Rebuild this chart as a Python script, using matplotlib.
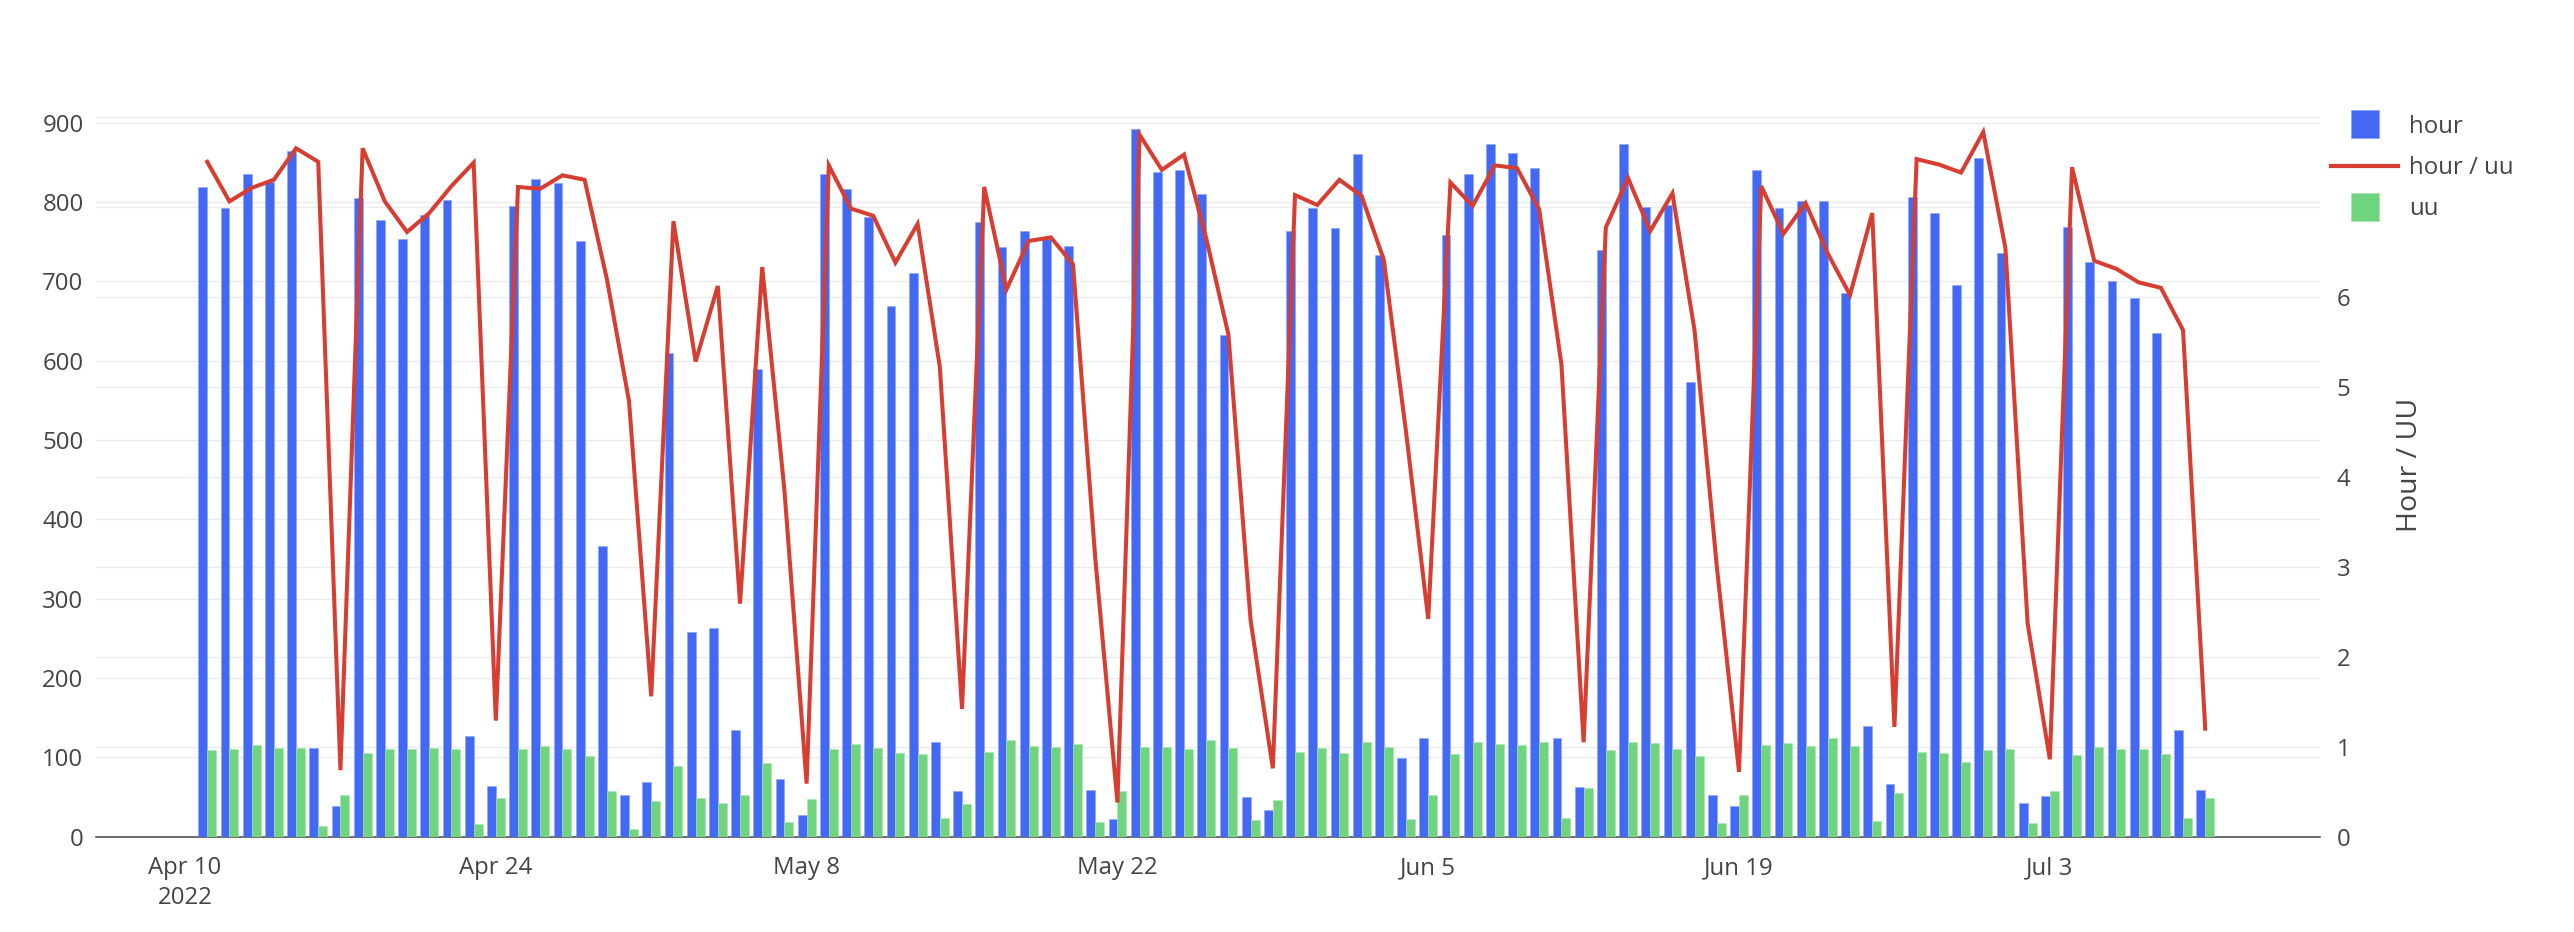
"""
Daily hour / uu chart with ratio line on a second axis.
"""

import pandas as pd
import matplotlib
matplotlib.use("Agg")
import matplotlib.pyplot as plt
import matplotlib.dates as mdates
from matplotlib.lines import Line2D

dates = pd.date_range("2022-04-11", periods=91, freq="D")

hour = [
    819, 792, 835, 825, 864, 112, 39, 805, 777, 753, 784, 803, 127, 64,
    795, 829, 824, 751, 367, 52, 69, 610, 258, 263, 134, 590, 73, 27, 836, 817,
    781, 669, 710, 120, 58, 775, 743, 763, 754, 745, 59, 22, 892, 838, 841,
    810, 633, 50, 34, 763, 793, 767, 861, 733, 99, 125, 758, 836, 873, 862,
    843, 125, 63, 739, 873, 794, 796, 573, 52, 39, 841, 792, 801, 801, 686,
    139, 67, 807, 786, 695, 855, 736, 42, 51, 769, 724, 701, 679, 635, 135, 59,
]
uu = [
    109, 111, 115, 112, 112, 14, 52, 105, 110, 111, 112, 110, 16, 49,
    110, 114, 111, 102, 58, 10, 45, 89, 49, 42, 52, 93, 18, 48, 111, 117,
    112, 105, 104, 23, 41, 107, 122, 114, 113, 117, 18, 58, 113, 113, 111,
    122, 112, 21, 46, 107, 112, 105, 120, 113, 22, 52, 104, 119, 117, 116,
    120, 24, 61, 109, 119, 118, 111, 102, 17, 52, 116, 118, 114, 124, 114,
    20, 55, 107, 105, 94, 109, 111, 17, 58, 103, 113, 111, 110, 104, 24, 49,
]
hour_per_uu = [
    7.50, 7.06, 7.21, 7.30, 7.65, 7.50, 0.74, 7.65, 7.06, 6.72, 6.93, 7.23, 7.49, 1.29,
    7.22, 7.20, 7.35, 7.30, 6.20, 4.84, 1.56, 6.84, 5.28, 6.12, 2.59, 6.33, 3.85, 0.59, 7.46, 6.98,
    6.90, 6.38, 6.81, 5.22, 1.42, 7.22, 6.08, 6.62, 6.66, 6.36, 3.10, 0.38, 7.80, 7.41, 7.58,
    6.65, 5.58, 2.40, 0.76, 7.13, 7.02, 7.30, 7.12, 6.41, 4.50, 2.42, 7.27, 7.01, 7.46, 7.43,
    6.97, 5.25, 1.05, 6.77, 7.32, 6.73, 7.15, 5.62, 3.00, 0.72, 7.23, 6.70, 7.04, 6.48, 6.02,
    6.93, 1.22, 7.53, 7.47, 7.38, 7.83, 6.54, 2.37, 0.86, 7.44, 6.40, 6.31, 6.16, 6.10, 5.63, 1.20,
]

tick_dates = pd.date_range("2022-04-10", periods=7, freq="14D")
tick_labels = ["Apr 10\n2022", "Apr 24", "May 8", "May 22", "Jun 5", "Jun 19", "Jul 3"]

BLUE = "#4369f4"
GREEN = "#70d47e"
RED = "#d73d31"
GRID = "#ececec"
TEXT = "#444444"

plt.rcParams["font.family"] = ["Open Sans", "DejaVu Sans"]
FS = 17.3

W, H = 2574, 932
fig = plt.figure(figsize=(W / 100, H / 100), dpi=100)
left, right, bottom, top = 96, 2320, 836.7, 93.4
ax = fig.add_axes([left / W, (H - bottom) / H, (right - left) / W, (bottom - top) / H])
ax2 = ax.twinx()

y1max, y2max = 937, 8.26
ax.set_ylim(0, y1max)
ax2.set_ylim(0, y2max)

x = mdates.date2num(dates)
ax.bar(x - 0.2, hour, width=0.4, color=BLUE, edgecolor="#8aa3f8", linewidth=0.4, zorder=3)
ax.bar(x + 0.2, uu, width=0.4, color=GREEN, edgecolor="#a9e5b1", linewidth=0.4, zorder=3)
ax2.plot(x, hour_per_uu, color=RED, linewidth=2.9, solid_joinstyle="miter", zorder=4)

# gridlines for both axes drawn behind the bars
for v in range(0, 901, 100):
    ax.axhline(v, color=GRID, linewidth=1.0, zorder=0)
for v in range(1, 9):
    ax.axhline(v * y1max / y2max, color=GRID, linewidth=1.0, zorder=0)

ax.set_xlim(x[0] - 5.01, x[0] + 95.17)
ax.set_xticks(mdates.date2num(tick_dates))
ax.set_xticklabels(tick_labels, linespacing=1.3)
ax.set_yticks(range(0, 901, 100))
ax2.set_yticks(range(0, 9))
ax2.set_yticklabels([str(v) if v <= 6 else "" for v in range(0, 9)])

ax.tick_params(axis="x", length=0, pad=14, labelsize=FS, labelcolor=TEXT)
ax.tick_params(axis="y", length=0, pad=9, labelsize=FS, labelcolor=TEXT)
ax2.tick_params(axis="y", length=0, pad=12, labelsize=FS, labelcolor=TEXT)

for a in (ax, ax2):
    for s in ("top", "left", "right", "bottom"):
        a.spines[s].set_visible(False)
ax.spines["bottom"].set_visible(True)
ax.spines["bottom"].set_color(TEXT)
ax.spines["bottom"].set_linewidth(1.1)

fig.text(2410 / W, 1 - 465 / H, "Hour / UU", rotation=90, ha="center", va="center",
         fontsize=20.5, color=TEXT)

handles = [
    Line2D([], [], marker="s", linestyle="none", markersize=19.5, markerfacecolor=BLUE,
           markeredgecolor="#8aa3f8", markeredgewidth=0.6),
    Line2D([], [], color=RED, linewidth=3),
    Line2D([], [], marker="s", linestyle="none", markersize=19.5, markerfacecolor=GREEN,
           markeredgecolor="#a9e5b1", markeredgewidth=0.6),
]
fig.legend(handles, ["hour", "hour / uu", "uu"], loc="center left",
           bbox_to_anchor=(2331 / W, 1 - 168 / H), frameon=False, fontsize=FS,
           handlelength=2.8, handletextpad=0.45, labelspacing=0.72,
           borderpad=0, borderaxespad=0, labelcolor=TEXT)

fig.savefig("out.png", dpi=100, facecolor="white")
